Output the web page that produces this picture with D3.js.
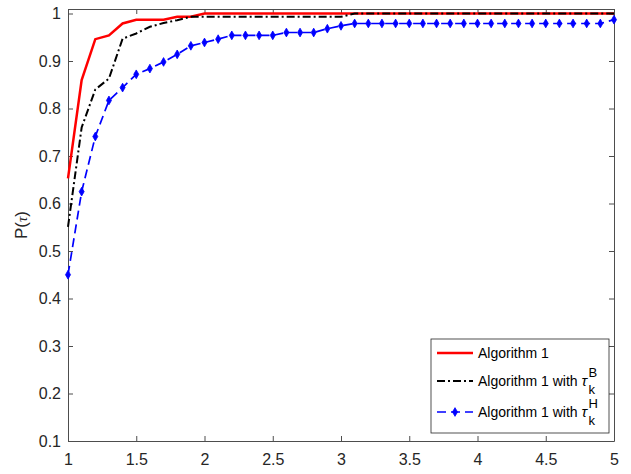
<html>
<head>
<script src="https://cdn.jsdelivr.net/npm/d3@7"></script>
<style>
  body { margin: 0; background: #fff; }
  text { font-family: "Liberation Sans", Arial, sans-serif; }
</style>
</head>
<body>
<svg width="631" height="474"></svg>
<script>
// tau values (x), one per 0.1
var tau = [1.0,1.1,1.2,1.3,1.4,1.5,1.6,1.7,1.8,1.9,
           2.0,2.1,2.2,2.3,2.4,2.5,2.6,2.7,2.8,2.9,
           3.0,3.1,3.2,3.3,3.4,3.5,3.6,3.7,3.8,3.9,
           4.0,4.1,4.2,4.3,4.4,4.5,4.6,4.7,4.8,4.9,5.0]

// Algorithm 1
var alg1 = [0.653,0.86,0.946,0.954,0.979,0.987,0.987,0.987,0.993,0.993,
            1,1,1,1,1,1,1,1,1,1,
            1,1,1,1,1,1,1,1,1,1,
            1,1,1,1,1,1,1,1,1,1,1]

// Algorithm 1 with tau_k^B
var alg1B = [0.551,0.76,0.84,0.863,0.947,0.958,0.972,0.98,0.986,0.993,
             0.993,0.993,0.993,0.993,0.993,0.993,0.993,0.993,0.993,0.993,
             0.993,1,1,1,1,1,1,1,1,1,
             1,1,1,1,1,1,1,1,1,1,1]

// Algorithm 1 with tau_k^H
var alg1H = [0.45,0.625,0.741,0.817,0.844,0.872,0.884,0.898,0.914,0.932,
             0.939,0.946,0.954,0.954,0.954,0.954,0.96,0.96,0.96,0.968,
             0.974,0.979,0.979,0.979,0.979,0.979,0.979,0.979,0.979,0.979,
             0.979,0.979,0.979,0.979,0.979,0.979,0.979,0.979,0.979,0.979,0.987]

var xTicks = [1,1.5,2,2.5,3,3.5,4,4.5,5]
var yTicks = [0.1,0.2,0.3,0.4,0.5,0.6,0.7,0.8,0.9,1]

var L = 68, R = 614, T = 9, B = 441
var svg = d3.select('svg')

var x = d3.scaleLinear().domain([1,5]).range([L,R])
var y = d3.scaleLinear().domain([0.1,1.0095]).range([B,T])

var axisCol = '#4d4d4d'

// axes with inward ticks, box on
svg.append('g').attr('transform','translate(0,'+B+')')
    .call(d3.axisBottom(x).tickValues(xTicks).tickSizeInner(-5).tickSizeOuter(0).tickPadding(13).tickFormat(d3.format('')))
svg.append('g').attr('transform','translate(0,'+T+')')
    .call(d3.axisTop(x).tickValues(xTicks).tickSizeInner(-5).tickSizeOuter(0).tickFormat(''))
svg.append('g').attr('transform','translate('+L+',0)')
    .call(d3.axisLeft(y).tickValues(yTicks).tickSizeInner(-5).tickSizeOuter(0).tickPadding(7).tickFormat(d3.format('')))
svg.append('g').attr('transform','translate('+R+',0)')
    .call(d3.axisRight(y).tickValues(yTicks).tickSizeInner(-5).tickSizeOuter(0).tickFormat(''))

svg.selectAll('.domain').attr('stroke',axisCol)
svg.selectAll('.tick line').attr('stroke',axisCol)
svg.selectAll('.tick text').attr('fill','#262626').attr('font-size',16)
    .attr('font-family','"Liberation Sans", Arial, sans-serif')

// y label
svg.append('text')
    .attr('transform','translate(27,'+((T+B)/2)+') rotate(-90)')
    .attr('text-anchor','middle')
    .attr('font-size',17).attr('fill','#262626')
    .html('P(<tspan font-family="Liberation Serif" font-style="italic" font-size="15">τ</tspan>)')

var line = d3.line()
    .x(function(d,i){ return x(tau[i]) })
    .y(function(d){ return y(d) })

var plot = svg.append('g')

plot.append('path').datum(alg1)
    .attr('d',line).attr('fill','none')
    .attr('stroke','#ff0000').attr('stroke-width',2.5)

plot.append('path').datum(alg1B)
    .attr('d',line).attr('fill','none')
    .attr('stroke','#000').attr('stroke-width',2)
    .attr('stroke-dasharray','8,3,2,3')

plot.append('path').datum(alg1H)
    .attr('d',line).attr('fill','none')
    .attr('stroke','#0000ff').attr('stroke-width',1.7)
    .attr('stroke-dasharray','9,5')

var diamond = d3.symbol().type(d3.symbolDiamond).size(22)
plot.selectAll('.mk').data(alg1H).enter()
    .append('path')
    .attr('class','mk')
    .attr('d',diamond)
    .attr('transform',function(d,i){ return 'translate('+x(tau[i])+','+y(d)+')' })
    .attr('fill','#0000ff')
    .attr('stroke','#0000ff').attr('stroke-width',0.8)

// legend
var lg = svg.append('g')
lg.append('rect')
    .attr('x',431).attr('y',339).attr('width',178).attr('height',94)
    .attr('fill','#fff').attr('stroke','#262626').attr('stroke-width',0.8)

var rows = [
  {y:353, col:'#ff0000', w:2.5, dash:null, mk:false, sup:null},
  {y:381, col:'#000', w:2, dash:'8,3,2,3', mk:false, sup:'B'},
  {y:412, col:'#0000ff', w:1.7, dash:'9,5', mk:true, sup:'H'}
]
rows.forEach(function(r){
  lg.append('line')
    .attr('x1',437).attr('x2',473).attr('y1',r.y).attr('y2',r.y)
    .attr('stroke',r.col).attr('stroke-width',r.w)
    .attr('stroke-dasharray',r.dash)
  if(r.mk){
    lg.append('path').attr('d',diamond)
      .attr('transform','translate(455,'+r.y+')')
      .attr('fill',r.col).attr('stroke',r.col).attr('stroke-width',0.8)
  }
  var t = lg.append('text').attr('x',478).attr('y',r.y+5)
    .attr('font-size',14).attr('fill','#000')
  if(r.sup){
    t.text('Algorithm 1 with')
    var tx = 478 + t.node().getComputedTextLength() + 4
    lg.append('text').attr('x',tx).attr('y',r.y+5)
      .attr('font-size',15).attr('font-style','italic')
      .attr('font-family','Liberation Serif').text('τ')
    lg.append('text').attr('x',tx+7).attr('y',r.y+13)
      .attr('font-size',13).text('k')
    lg.append('text').attr('x',tx+7).attr('y',r.y-4)
      .attr('font-size',13).text(r.sup)
  } else {
    t.text('Algorithm 1')
  }
})
</script>
</body>
</html>
